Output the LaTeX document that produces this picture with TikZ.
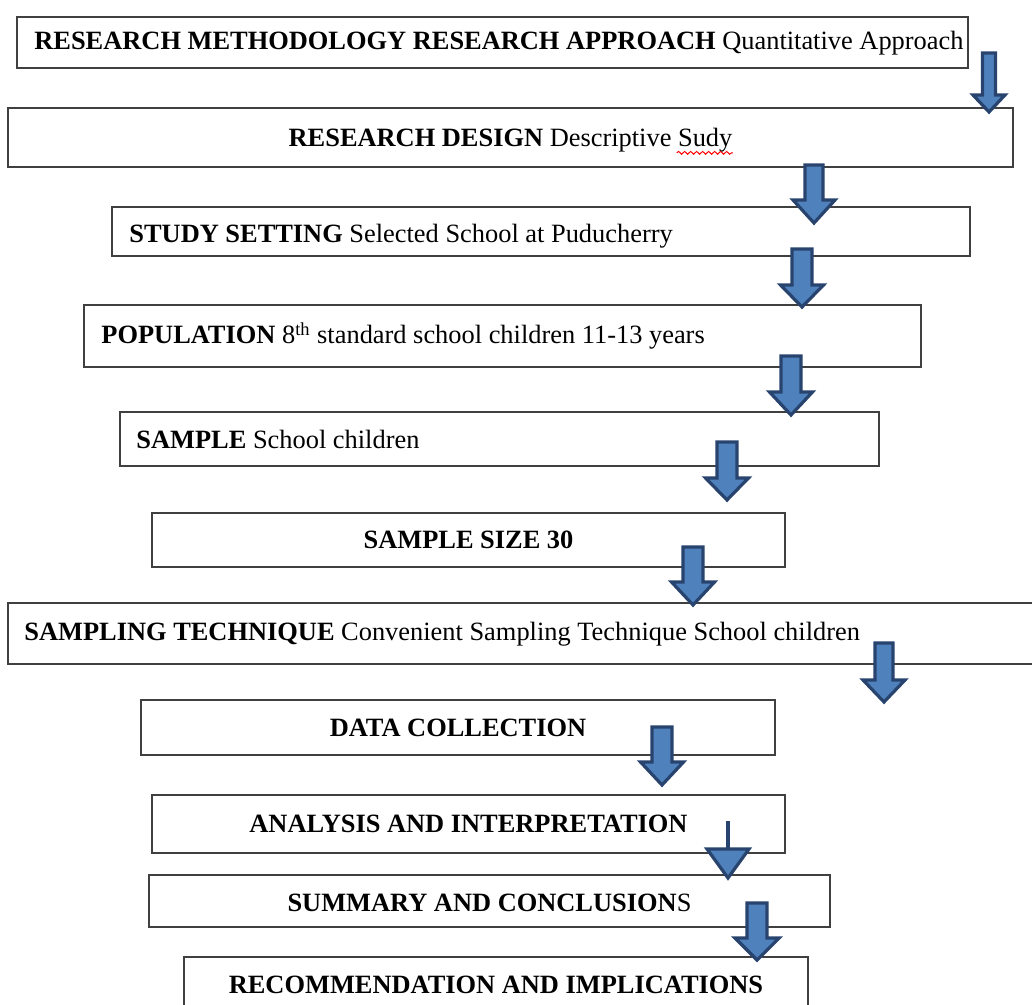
\documentclass[tikz,border=0pt]{standalone}
\usepackage{fontspec}
\setmainfont{Liberation Serif}
\usetikzlibrary{positioning,decorations.pathmorphing}
\definecolor{arrowfill}{RGB}{79,129,189}
\definecolor{arrowline}{RGB}{40,68,110}
\definecolor{boxline}{RGB}{64,64,64}
\tikzset{
  stepbox/.style={draw=boxline, line width=1pt, fill=white, inner sep=0pt},
  blockarrow/.style={draw=arrowline, fill=arrowfill, line width=1.6pt, line join=miter},
}
\newcommand{\blockarrow}[6]{%
  \draw[blockarrow] (#1-#4,#2) -- (#1+#4,#2) -- (#1+#4,#3-#6) -- (#1+#5,#3-#6)
    -- (#1,#3) -- (#1-#5,#3-#6) -- (#1-#4,#3-#6) -- cycle;}
\begin{document}
\begin{tikzpicture}[x=0.5pt, y=-0.5pt, inner sep=0pt, font=\fontsize{13.2}{15}\selectfont]
      \useasboundingbox[fill=white] (0,0) rectangle (1032,1005);
      \node[stepbox, minimum width=475.5pt, minimum height=25.5pt] (method) at (492.5,42.5) {};
      \node[right=9pt of method.west, yshift=-0.5pt] (methodtxt) {\textbf{RESEARCH METHODOLOGY RESEARCH APPROACH} Quantitative Approach};
      \node[stepbox, minimum width=502.5pt, minimum height=29.5pt] (design) at (510.5,137.5) {};
      \node (designtxt) at (510.5,140.5) {\textbf{RESEARCH DESIGN} Descriptive Sudy};
      \draw[red, line width=0.5pt, decorate, decoration={snake, amplitude=0.7pt, segment length=3pt}]
         ([xshift=-28pt, yshift=-3pt]designtxt.base east) -- ++(28pt,0);
      \node[stepbox, minimum width=429pt, minimum height=24.5pt] (setting) at (541,231.5) {};
      \node[right=9pt of setting.west, yshift=-2.5pt] (settingtxt) {\textbf{STUDY SETTING} Selected School at Puducherry};
      \node[stepbox, minimum width=418.5pt, minimum height=31pt] (population) at (502.5,336) {};
      \node[right=9pt of population.west] (populationtxt) {\textbf{POPULATION} 8\textsuperscript{th} standard school children 11-13 years};
      \node[stepbox, minimum width=379.5pt, minimum height=27pt] (sample) at (499.5,439) {};
      \node[right=8.5pt of sample.west] (sampletxt) {\textbf{SAMPLE} School children};
      \node[stepbox, minimum width=316.5pt, minimum height=27pt] (size) at (468.5,540) {\textbf{SAMPLE SIZE 30}};
      \node[stepbox, minimum width=518.5pt, minimum height=30.5pt] (technique) at (526.5,633.5) {};
      \node[right=8.5pt of technique.west, yshift=-0.5pt] (techniquetxt) {\textbf{SAMPLING TECHNIQUE} Convenient Sampling Technique School children};
      \node[stepbox, minimum width=317pt, minimum height=27.5pt] (collection) at (458,727.5) {\textbf{DATA COLLECTION}};
      \node[stepbox, minimum width=316.5pt, minimum height=29pt] (analysis) at (468.5,824) {\textbf{ANALYSIS AND INTERPRETATION}};
      \node[stepbox, minimum width=340.5pt, minimum height=26pt] (summary) at (489.5,901) {};
      \node (summarytxt) at (489.5,903) {\textbf{SUMMARY AND CONCLUSION}S};
      \node[stepbox, minimum width=312pt, minimum height=31.5pt] (recommend) at (496,988.5) {};
      \node (recommendtxt) at (496,985) {\textbf{RECOMMENDATION AND IMPLICATIONS}};
      \blockarrow{989}{53}{112}{6.5}{16}{17}
      \blockarrow{814}{165}{223}{9}{21}{23}
      \blockarrow{802}{249}{307}{10}{21.5}{22}
      \blockarrow{791}{356}{415}{10}{21.5}{23}
      \blockarrow{727}{442}{500}{10}{21.5}{22}
      \blockarrow{693}{547}{605}{10}{21.5}{23}
      \blockarrow{884}{643}{702}{9}{21}{22}
      \blockarrow{662}{727}{785}{10}{21.5}{23}
      \coordinate (bend) at (728,849);
      \draw[arrowline, line width=1.6pt] (728,821) -- (bend);
      \draw[blockarrow] (707,849) -- (749,849) -- (728,878) -- cycle;
      \blockarrow{757}{903}{960}{10}{22}{22}
\end{tikzpicture}
\end{document}
